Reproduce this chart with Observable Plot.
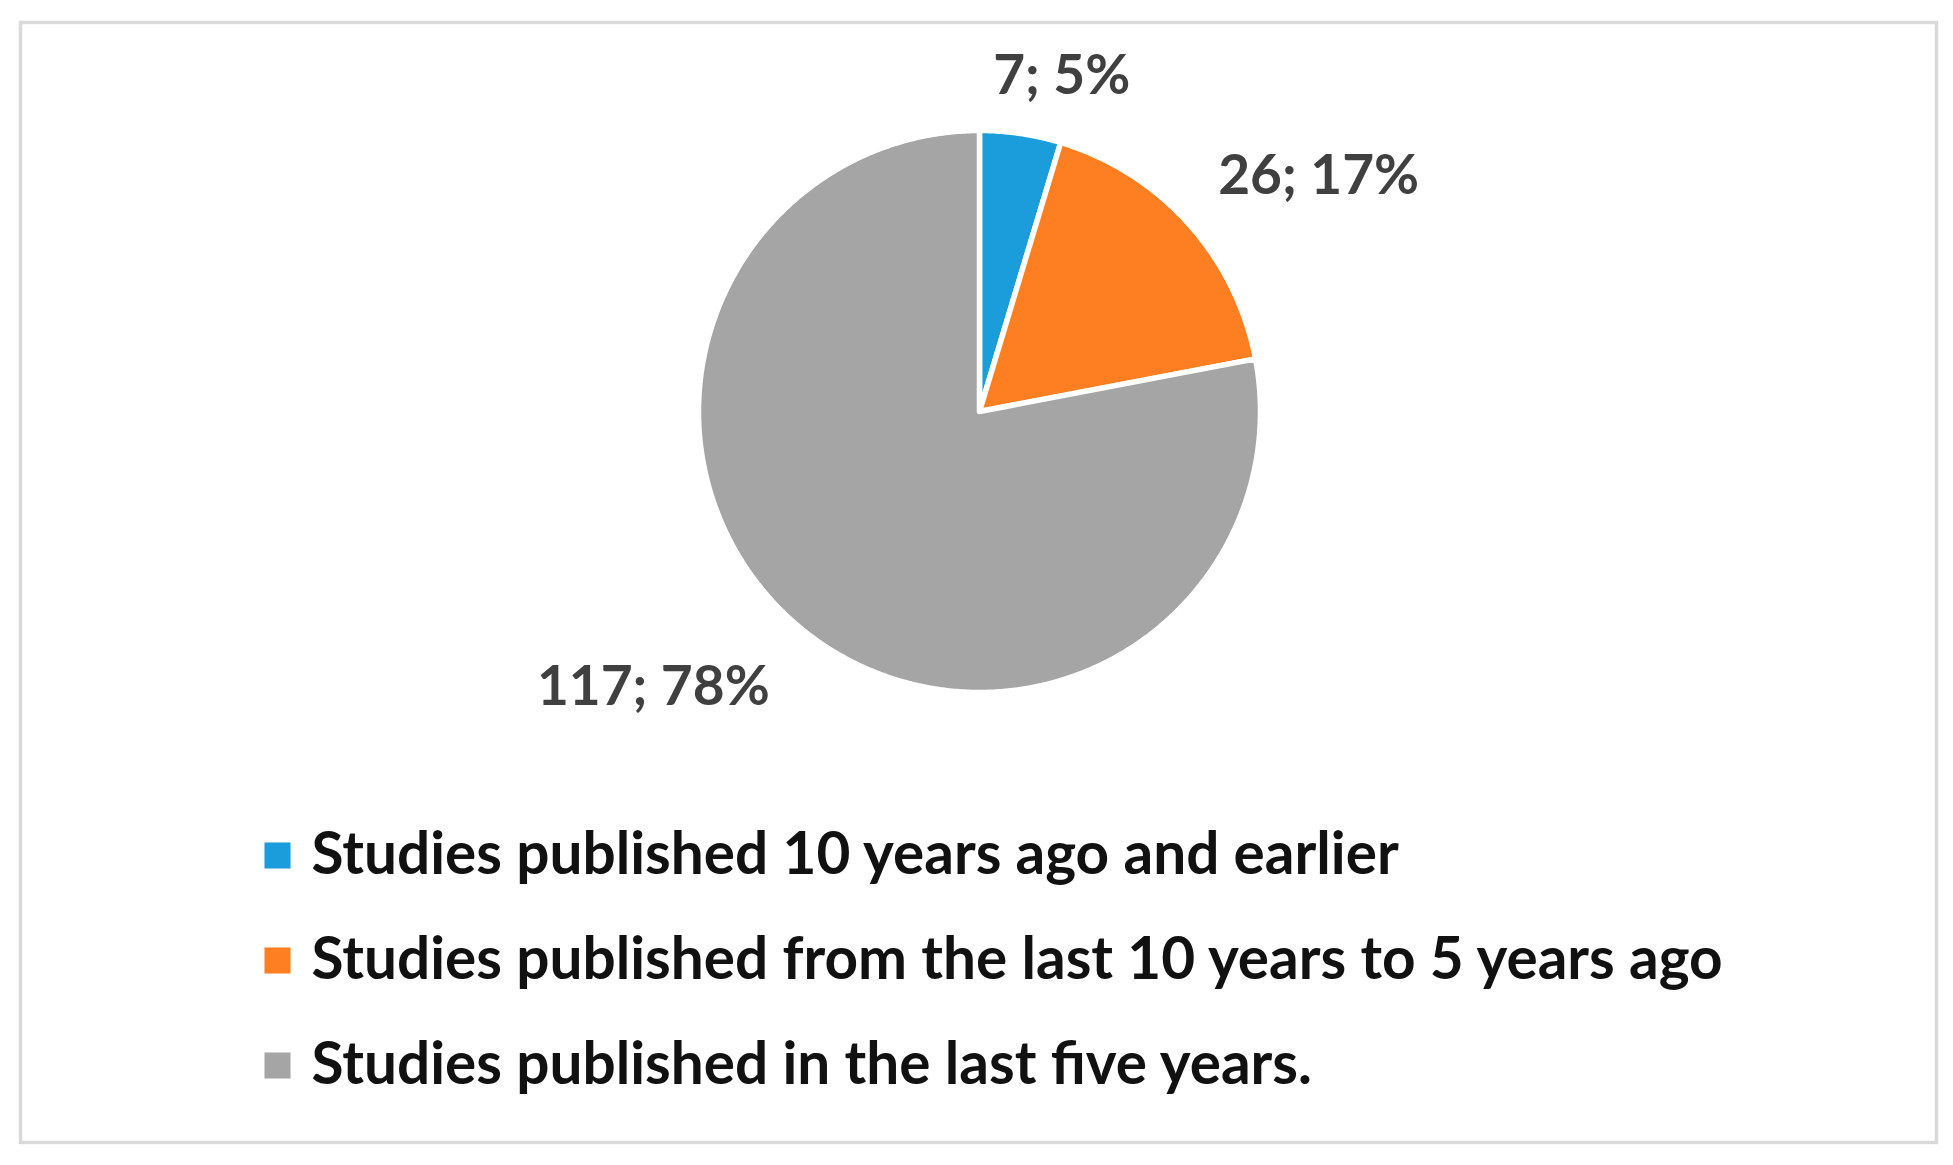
<!DOCTYPE html>
<html>
<head>
<meta charset="utf-8">
<script src="https://cdn.jsdelivr.net/npm/d3@7"></script>
<script src="https://cdn.jsdelivr.net/npm/@observablehq/plot@0.6"></script>
<style>
  html, body { margin: 0; padding: 0; background: #fff; overflow: hidden; }
  #wrap { position: relative; width: 1953px; height: 1165px; }
  #wrap svg { position: absolute; left: 0; top: 0; }
</style>
</head>
<body>
<div id="wrap"></div>
<script>
// ---- data ----
const categories = [
  "Studies published 10 years ago and earlier",
  "Studies published from the last 10 years to 5 years ago",
  "Studies published in the last five years."
];
const counts = [7, 26, 117];
const colors = ["#1b9cdb", "#fe7f22", "#a5a5a5"];

// ---- layout (not data) ----
const W = 1953, H = 1165;
const cx = 979, cy = 411, R = 281;
const labelRadius = 1.25;
const labelNudge = [[0.11, -0.044], [0.278, 0.0], [-0.364, -0.018]];
const font = "Lato, 'Open Sans', sans-serif";

const total = d3.sum(counts);
const arcs = d3.pie().sort(null).value(d => d)(counts);

// wedge outlines in unit-circle coordinates (angle from 12 o'clock, clockwise)
const wedgePts = [];
arcs.forEach((a, i) => {
  const cat = categories[i];
  wedgePts.push({cat, x: 0, y: 0});
  const n = Math.max(2, Math.ceil((a.endAngle - a.startAngle) / (Math.PI / 360)));
  for (let k = 0; k <= n; k++) {
    const t = a.startAngle + (a.endAngle - a.startAngle) * k / n;
    wedgePts.push({cat, x: Math.sin(t), y: Math.cos(t)});
  }
  wedgePts.push({cat, x: 0, y: 0});
});

const labels = arcs.map((a, i) => {
  const m = (a.startAngle + a.endAngle) / 2;
  return {
    x: labelRadius * Math.sin(m) + labelNudge[i][0],
    y: labelRadius * Math.cos(m) + labelNudge[i][1],
    text: `${counts[i]}; ${Math.round(counts[i] / total * 100)}%`
  };
});

const pie = Plot.plot({
  width: W, height: H,
  marginLeft: 20, marginTop: 22, marginRight: 17, marginBottom: 23,
  x: {domain: [-1, 1], range: [cx - R, cx + R], axis: null},
  y: {domain: [-1, 1], range: [cy + R, cy - R], axis: null},
  color: {domain: categories, range: colors},
  style: {background: "white", overflow: "visible"},
  marks: [
    Plot.frame({stroke: "#d9d9d9", strokeWidth: 3.5}),
    Plot.line(wedgePts, {
      x: "x", y: "y", z: "cat", fill: "cat",
      stroke: "white", strokeWidth: 5.5, strokeLinejoin: "round", curve: "linear"
    }),
    Plot.text(labels, {
      x: "x", y: "y", text: "text",
      fontSize: 55, fontWeight: 700, fontFamily: font, fill: "#404040",
      textAnchor: "middle", lineAnchor: "middle"
    })
  ]
});

const legend = Plot.plot({
  width: W, height: H,
  marginLeft: 277, marginTop: 0, marginRight: 0, marginBottom: 0,
  y: {type: "point", domain: categories, range: [855, 1065], padding: 0, axis: null},
  color: {domain: categories, range: colors},
  style: {background: "transparent", overflow: "visible"},
  marks: [
    Plot.dot(categories, {
      y: d => d, frameAnchor: "left", symbol: "square", r: 14.7,
      fill: d => d, stroke: null
    }),
    Plot.text(categories, {
      y: d => d, frameAnchor: "left", dx: 34, text: d => d,
      textAnchor: "start", lineAnchor: "middle",
      fontSize: 58.5, fontWeight: 700, fontFamily: font, fill: "#111"
    })
  ]
});

document.getElementById("wrap").append(pie, legend);
</script>
</body>
</html>
